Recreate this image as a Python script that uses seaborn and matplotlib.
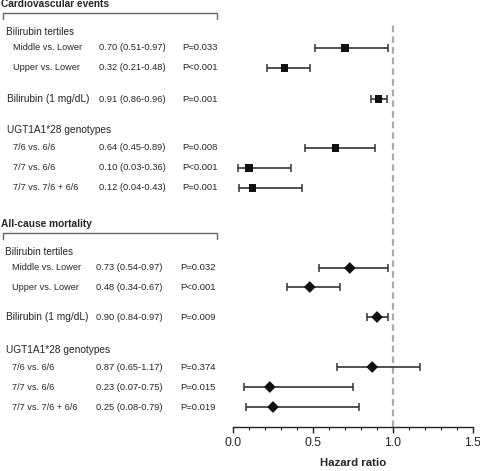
import numpy as np
import pandas as pd
import seaborn as sns
import matplotlib.pyplot as plt
from matplotlib.ticker import MultipleLocator

sns.set_style('white')
plt.rcParams['font.family'] = ['Liberation Sans', 'DejaVu Sans']

# data
row_labels = ['Middle vs. Lower', 'Upper vs. Lower', 'Bilirubin (1 mg/dL)',
              '7/6 vs. 6/6', '7/7 vs. 6/6', '7/7 vs. 7/6 + 6/6']
cv_hr = [0.70, 0.32, 0.91, 0.64, 0.10, 0.12]
cv_lo = [0.51, 0.21, 0.86, 0.45, 0.03, 0.04]
cv_hi = [0.97, 0.48, 0.96, 0.89, 0.36, 0.43]
cv_p = ['P=0.033', 'P<0.001', 'P=0.001', 'P=0.008', 'P<0.001', 'P=0.001']
mort_hr = [0.73, 0.48, 0.90, 0.87, 0.23, 0.25]
mort_lo = [0.54, 0.34, 0.84, 0.65, 0.07, 0.08]
mort_hi = [0.97, 0.67, 0.97, 1.17, 0.75, 0.79]
mort_p = ['P=0.032', 'P<0.001', 'P=0.009', 'P=0.374', 'P=0.015', 'P=0.019']

W, H = 480, 471
fig = plt.figure(figsize=(W / 100, H / 100), dpi=100)

def px(x, y):
    return x / W, 1 - y / H

# forest axes: y in pixel rows of the figure
ax_l, ax_r, ax_b = 233, 473, 427
ax = fig.add_axes([ax_l / W, 1 - ax_b / H, (ax_r - ax_l) / W, ax_b / H])
ax.set_ylim(ax_b, 0)
ax.set_xlim(0, 1.5)

# layout: row centres (pixels)
cv_rows = [48, 68, 99, 148, 168, 188]
mort_rows = [268, 287, 317, 367, 387, 407]

# title, title y, bracket y, tertiles y, ugt y, rows, ..., marker, size, x offsets
sections = [
    ('Cardiovascular events', 4, 13, 32, 130, cv_rows, cv_hr, cv_lo, cv_hi, cv_p, 's', 28, (6, 13, 99, 182)),
    ('All-cause mortality', 224, 233, 252, 350, mort_rows, mort_hr, mort_lo, mort_hi, mort_p, 'D', 36, (5, 12, 96, 180)),
]

for title, ty, by, tert_y, ugt_y, rows, hr, lo, hi, pv, mk, ms, xs in sections:
    hx, sx, nx, pxx = xs
    df = pd.DataFrame({'label': row_labels, 'hr': hr, 'lo': lo, 'hi': hi, 'p': pv, 'y': rows})
    ax.errorbar(df['hr'], df['y'], xerr=[df['hr'] - df['lo'], df['hi'] - df['hr']],
                fmt='none', ecolor='#333333', elinewidth=1.2, capsize=2.8, capthick=1.1, zorder=2)
    sns.scatterplot(data=df, x='hr', y='y', marker=mk, s=ms, color='#111111',
                    edgecolor='none', ax=ax, zorder=3, legend=False)

    fig.text(*px(1, ty), title, fontsize=7.3, fontweight='bold', va='center', ha='left')
    fig.add_artist(plt.Line2D([3 / W, 3 / W, 217 / W, 217 / W],
                              [1 - (by + 6) / H, 1 - by / H, 1 - by / H, 1 - (by + 6) / H],
                              color='#666666', lw=1))
    fig.text(*px(hx, tert_y), 'Bilirubin tertiles', fontsize=7.2, va='center')
    fig.text(*px(hx + 1, ugt_y), 'UGT1A1*28 genotypes', fontsize=7.3, va='center')
    for i, r in df.iterrows():
        lx = hx + 1 if i == 2 else sx
        fs = 7.3 if i == 2 else 6.6
        fig.text(*px(lx, r['y']), r['label'], fontsize=fs, va='center')
        fig.text(*px(nx, r['y']), f"{r['hr']:.2f} ({r['lo']:.2f}-{r['hi']:.2f})",
                 fontsize=6.7, va='center')
        fig.text(*px(pxx, r['y']), r['p'], fontsize=6.8, va='center')

ax.axvline(1.0, ymin=0, ymax=1 - 22 / ax_b, color='#aaaaaa', lw=1.6, ls=(0, (3, 1.8)), zorder=1)

for s in ['top', 'right', 'left']:
    ax.spines[s].set_visible(False)
ax.spines['bottom'].set_color('#222222')
ax.spines['bottom'].set_linewidth(1)
ax.set_yticks([])
ax.set_xticks([0.0, 0.5, 1.0, 1.5])
ax.set_xticklabels(['0.0', '0.5', '1.0', '1.5'])
ax.xaxis.set_minor_locator(MultipleLocator(0.1))
ax.tick_params(axis='x', which='major', direction='out', length=4, width=1,
               color='#222222', labelsize=8.8, pad=3, bottom=True)
ax.tick_params(axis='x', which='minor', direction='out', length=2.2, width=0.8,
               color='#222222', bottom=True)
ax.set_xlabel('Hazard ratio', fontsize=8.2, fontweight='bold', labelpad=6.5)
ax.set_ylabel('')
ax.patch.set_alpha(0)

fig.savefig('out.png', dpi=100)
